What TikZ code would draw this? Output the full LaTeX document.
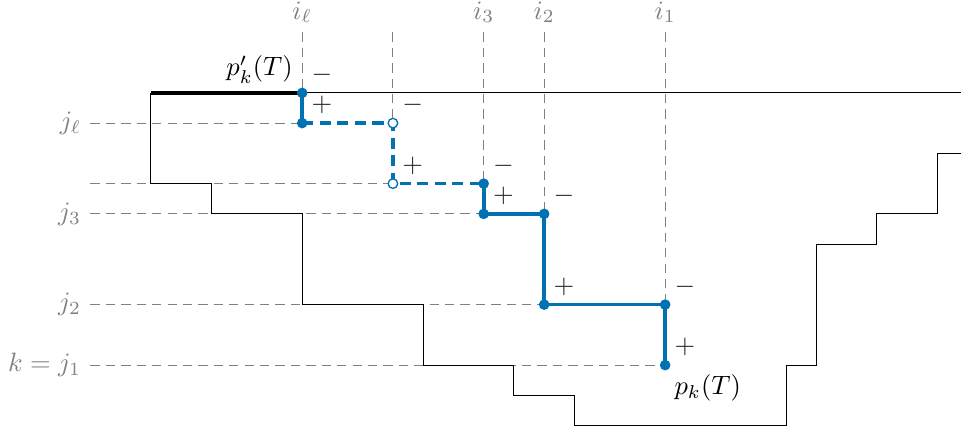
\documentclass[tikz,border=0pt]{standalone}
\usetikzlibrary{calc}
\definecolor{pathblue}{RGB}{0,114,178}
\definecolor{guidegray}{RGB}{128,128,128}
\begin{document}
\begin{tikzpicture}[x=0.4cm,y=-0.4cm,
  guide/.style={guidegray, line width=0.4pt, dash pattern=on 3.5pt off 2.3pt},
  glabel/.style={text=guidegray},
  wall/.style={black, line width=0.4pt},
  bluepath/.style={pathblue, line width=1.4pt},
  bluedash/.style={pathblue, line width=1.4pt, dash pattern=on 4.2pt off 2.4pt},
  dot/.style={circle, fill=pathblue, inner sep=0pt, minimum size=4pt},
  odot/.style={circle, draw=pathblue, fill=white, line width=0.5pt, inner sep=0pt, minimum size=3.6pt},
  sign/.style={anchor=south west, text=black!85}
]
\useasboundingbox (-4.99,-3.07) rectangle (26.78,11.31);

% corner points of the path
\coordinate (p0) at (5,0);
\coordinate (p1) at (5,1);
\coordinate (p2) at (8,1);
\coordinate (p3) at (8,3);
\coordinate (p4) at (11,3);
\coordinate (p5) at (11,4);
\coordinate (p6) at (13,4);
\coordinate (p7) at (13,7);
\coordinate (p8) at (17,7);
\coordinate (p9) at (17,9);

% guide lines
\coordinate (gl) at (-2,0);
\draw[guide] (5,-2) coordinate (ti) -- (p0);
\draw[guide] (8,-2) coordinate (tx) -- (p2);
\draw[guide] (11,-2) coordinate (t3) -- (p4);
\draw[guide] (13,-2) coordinate (t2) -- (p6);
\draw[guide] (17,-2) coordinate (t1) -- (p8);
\draw[guide] (-2,1) coordinate (lj) -- (p1);
\draw[guide] (-2,3) coordinate (lx) -- (p3);
\draw[guide] (-2,4) coordinate (l3) -- (p5);
\draw[guide] (-2,7) coordinate (l2) -- (p7);
\draw[guide] (-2,9) coordinate (l1) -- (p9);

\node[glabel, anchor=south] (il) at (ti) {$i_\ell$};
\node[glabel, anchor=south] (i3) at (t3) {$i_3$};
\node[glabel, anchor=south] (i2) at (t2) {$i_2$};
\node[glabel, anchor=south] (i1) at (t1) {$i_1$};
\node[glabel, anchor=east] (jl) at (lj) {$j_\ell$};
\node[glabel, anchor=east] (j3) at (l3) {$j_3$};
\node[glabel, anchor=east] (j2) at (l2) {$j_2$};
\node[glabel, anchor=east] (j1) at (l1) {$k=j_1$};

% boundary
\draw[wall] (0,0) -- (26.78,0);
\draw[wall] (0,0) -- (0,3) -- (2,3) -- (2,4) -- (5,4) -- (5,7) -- (9,7) -- (9,9)
  -- (12,9) -- (12,10) -- (14,10) -- (14,11) -- (21,11) -- (21,9) -- (22,9)
  -- (22,5) -- (24,5) -- (24,4) -- (26,4) -- (26,2) -- (26.78,2);
\draw[black, line width=1.5pt] (0,0) -- (p0);

% the path
\draw[bluepath] (p0) -- (p1);
\draw[bluedash] (p1) -- (p2) -- (p3) -- (p4);
\draw[bluepath, line join=round] (p4) -- (p5) -- (p6) -- (p7) -- (p8) -- (p9);

\foreach \p in {p0,p1,p4,p5,p6,p7,p8,p9}
  \node[dot] (d\p) at (\p) {};
\node[odot] (dp2) at (p2) {};
\node[odot] (dp3) at (p3) {};

% signs
\node[sign] (s0) at (p0) {$-$};
\node[sign] (s1) at (p1) {$+$};
\node[sign] (s2) at (p2) {$-$};
\node[sign] (s3) at (p3) {$+$};
\node[sign] (s4) at (p4) {$-$};
\node[sign] (s5) at (p5) {$+$};
\node[sign] (s6) at (p6) {$-$};
\node[sign] (s7) at (p7) {$+$};
\node[sign] (s8) at (p8) {$-$};
\node[sign] (s9) at (p9) {$+$};

\node[anchor=south east] (pkp) at (p0) {$p'_k(T)$};
\node[anchor=north west] (pk) at (p9) {$p_k(T)$};
\end{tikzpicture}
\end{document}
